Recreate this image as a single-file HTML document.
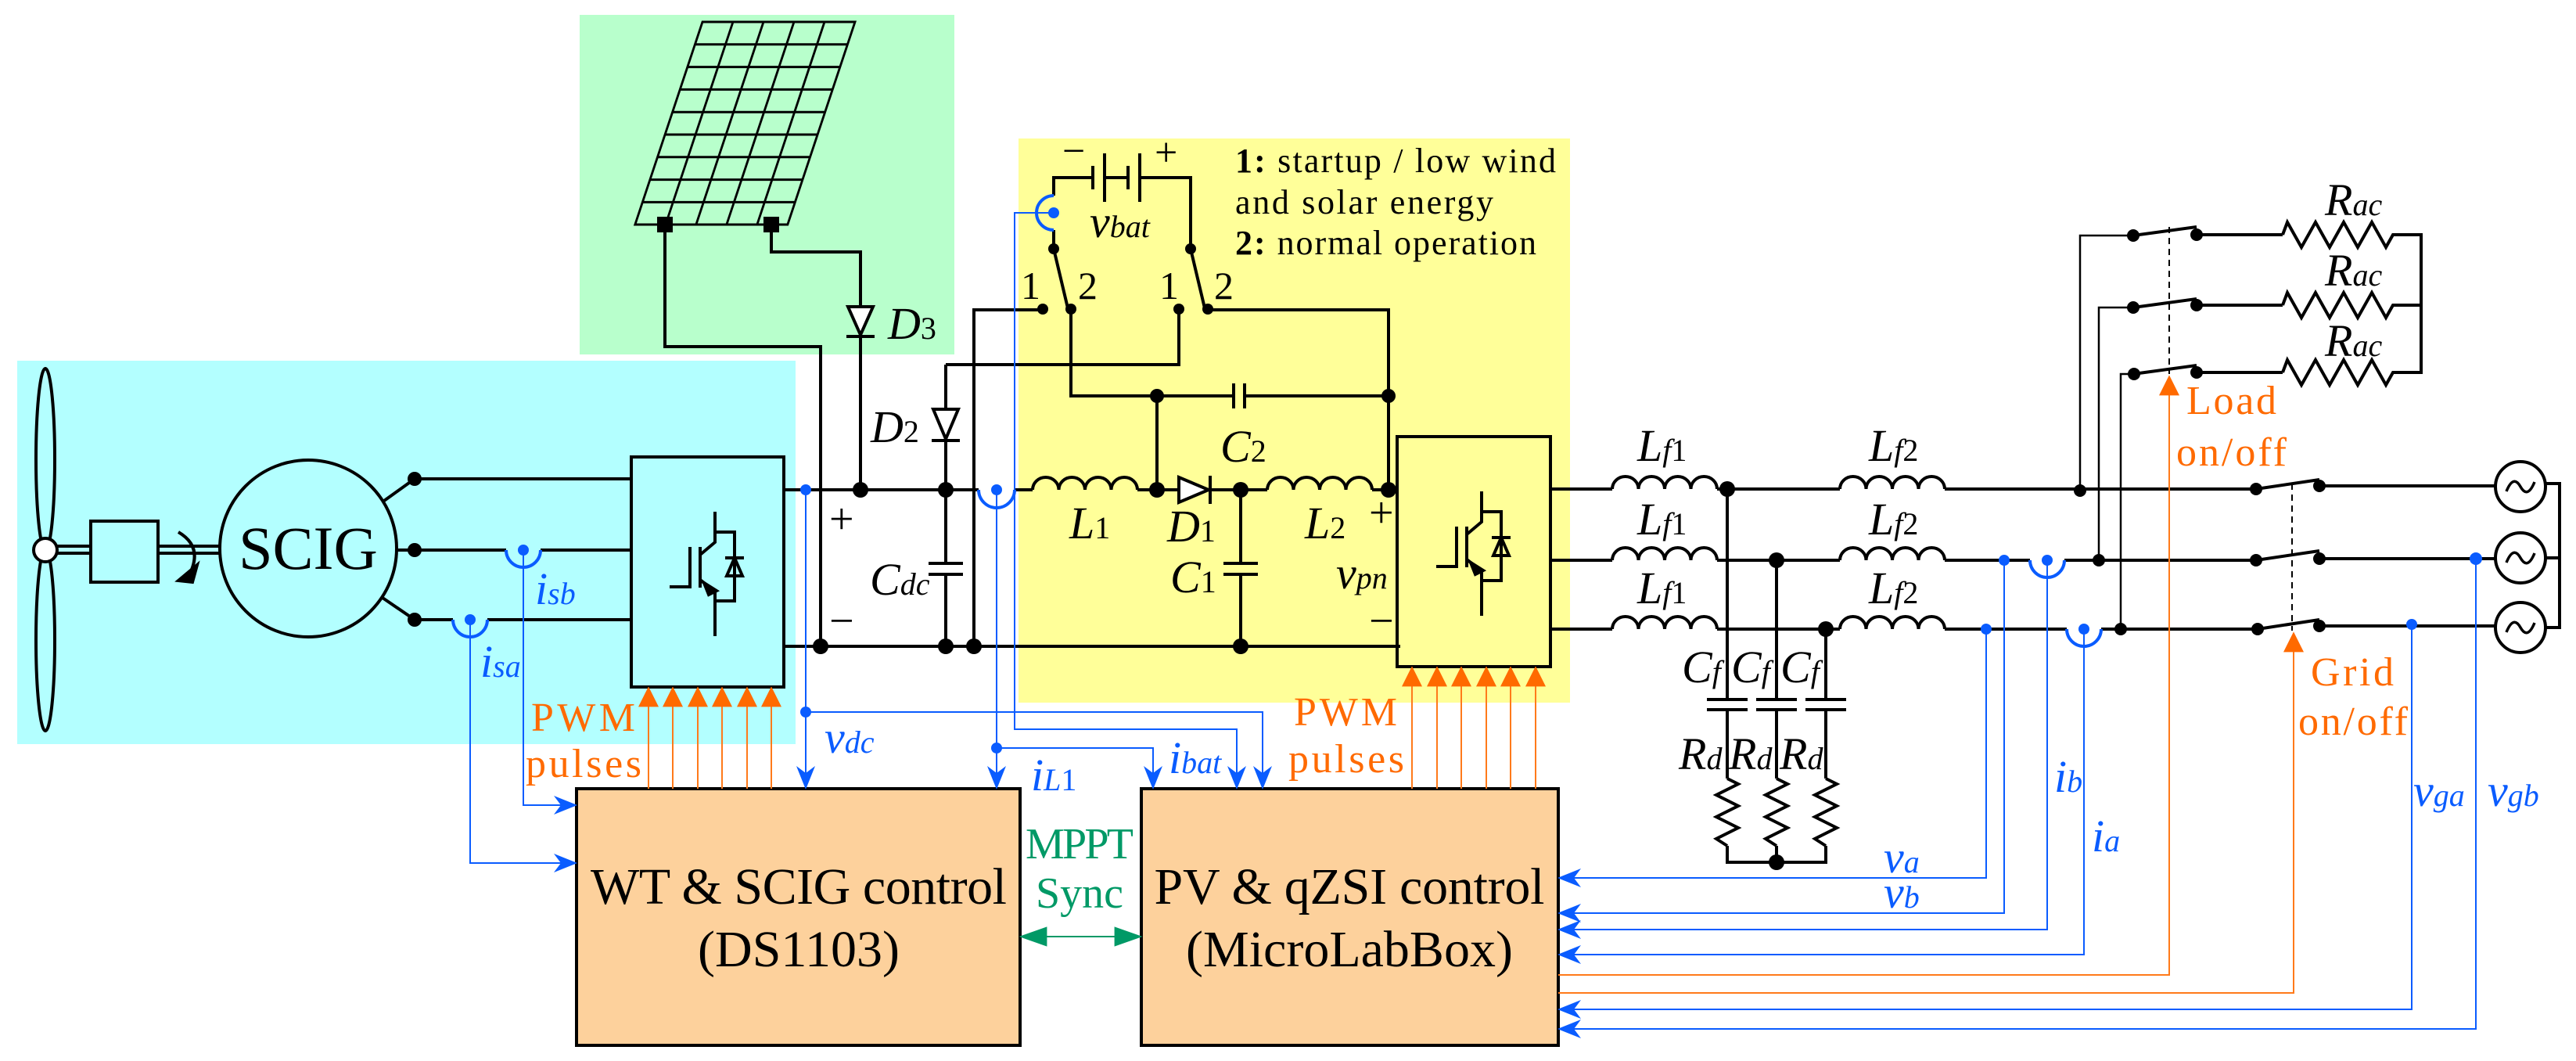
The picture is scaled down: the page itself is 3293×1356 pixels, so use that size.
<!DOCTYPE html>
<html><head><meta charset="utf-8"><style>
html,body{margin:0;padding:0;background:#fff}
svg{display:block}
text{font-family:"Liberation Serif",serif}
.l{font-style:italic;font-size:58px}
.s{font-size:40px}
.n{font-style:normal}
.bl{fill:#0a5cff}
.or{fill:#ff6a00}
</style></head><body>
<svg width="3293" height="1356" viewBox="0 0 3293 1356" xmlns="http://www.w3.org/2000/svg">
<defs>
<marker id="ao" viewBox="0 0 10 10" refX="9" refY="5" markerWidth="26" markerHeight="26" orient="auto" markerUnits="userSpaceOnUse"><path d="M0,0 L10,5 L0,10 z" fill="#ff6a00"/></marker>
<marker id="abb" viewBox="0 0 10 10" refX="9" refY="5" markerWidth="30" markerHeight="30" orient="auto" markerUnits="userSpaceOnUse"><path d="M0,1 L10,5 L0,9 L3,5 z" fill="#0a5cff"/></marker>
<marker id="ag" viewBox="0 0 10 10" refX="9" refY="5" markerWidth="36" markerHeight="36" orient="auto-start-reverse" markerUnits="userSpaceOnUse"><path d="M0,1.5 L10,5 L0,8.5 z" fill="#009966"/></marker>
<path id="ind" d="M0,0 a16.75,16 0 0 1 33.5,0 a16.75,16 0 0 1 33.5,0 a16.75,16 0 0 1 33.5,0 a16.75,16 0 0 1 33.5,0" fill="none" stroke="#000" stroke-width="4"/>
<polyline id="rh" points="0,0 6,-16 24,16 42,-16 60,16 78,-16 96,16 114,-16 132,16 141,0 148,0" fill="none" stroke="#000" stroke-width="4"/>
<polyline id="rv" points="0,0 14,7 -14,21 14,35 -14,49 14,63 -14,77 0,86" fill="none" stroke="#000" stroke-width="4"/>
<g id="igbt" fill="none" stroke="#000" stroke-width="4">
<path d="M10,-77 V-38 L-9,-22"/><path d="M-9,-32 V20"/><path d="M-9,10 L10,25 V82"/>
<path d="M-48,19 H-22 V-32"/><path d="M10,-51 H35 V37 H10"/><path d="M23,-18 H47"/>
<path d="M35,-18 L25,5 H45 z"/><path d="M-4,14 L12,24 L2,29 z" fill="#000"/>
</g>
</defs>

<rect x="741" y="19" width="479" height="434" fill="#b8ffcc"/>
<rect x="22" y="461" width="995" height="490" fill="#b3ffff"/>
<rect x="1302" y="177" width="705" height="721" fill="#ffff99"/>

<g fill="none" stroke="#000" stroke-width="4">
<g transform="translate(898,28) skewX(-18.4)" stroke-width="3">
<rect x="0" y="0" width="195" height="259"/>
<path d="M39,0V259M78,0V259M117,0V259M156,0V259"/>
<path d="M0,28.8H195M0,57.6H195M0,86.4H195M0,115.2H195M0,144H195M0,172.8H195M0,201.6H195M0,230.4H195"/>
</g>
<path d="M850,287 V443 H1049 V826"/>
<path d="M986,287 V322 H1100 V626"/>
<path d="M1084,392 H1116 L1100,428 Z" fill="#fff"/><path d="M1082,430 H1118"/>

<ellipse cx="58" cy="587" rx="12" ry="116"/><ellipse cx="58" cy="818" rx="12" ry="116"/>
<circle cx="58" cy="703" r="15" fill="#fff"/>
<path d="M73,698 H116 M73,707 H116 M202,698 H281 M202,707 H281"/>
<rect x="116" y="666" width="86" height="78"/>
<path d="M228,680 Q262,700 240,738"/>
<path d="M228,742 L252,722 L246,744 z" fill="#000"/>
<circle cx="394" cy="701" r="113"/>
<text x="394" y="727" text-anchor="middle" font-size="78" fill="#000" stroke="none">SCIG</text>
<path d="M491,640 L530,612 M507,703 H530 M489,764 L530,792"/>
<path d="M530,612 H807"/>
<path d="M530,703 H647 M691,703 H807"/>
<path d="M530,792 H579 M623,792 H807"/>
<rect x="807" y="584" width="195" height="294"/>
<use href="#igbt" x="904" y="731"/>
<path d="M1002,626 H1251 M1297,626 H1320"/>
<path d="M1002,826 H1790"/>
<path d="M1209,466 V720 M1209,734 V826"/>
<path d="M1187,720 H1231 M1187,734 H1231"/>
<path d="M1193,523 H1225 L1209,561 Z" fill="#fff"/><path d="M1191,563 H1227"/>
<path d="M1209,466 H1507 V396"/>
<path d="M1245,826 V396 H1333"/>
<path d="M1347,318 V294 M1347,250 V227 H1397 M1457,227 H1522 V318"/>
<path d="M1397,212 V242 M1412,196 V258 M1442,212 V242 M1457,196 V258 M1412,227 H1442"/>
<path d="M1347,318 L1366,398 M1522,318 L1541,398"/>
<path d="M1369,396 V506 H1577 M1591,506 H1775 V396 H1544"/>
<path d="M1577,490 V522 M1591,490 V522"/>
<path d="M1479,506 V626"/>
<use href="#ind" x="1320" y="626"/>
<path d="M1454,626 H1507 M1549,626 H1620"/>
<path d="M1507,610 V642 L1545,626 Z" fill="#fff"/><path d="M1547,608 V644"/>
<use href="#ind" x="1620" y="626"/>
<path d="M1754,626 H1786 M1775,506 V626"/>
<path d="M1586,626 V720 M1586,734 V826 M1564,720 H1608 M1564,734 H1608"/>
<rect x="1786" y="558" width="196" height="294"/>
<use href="#igbt" x="1884" y="705"/>
<path d="M1982,625 H2061 M2195,625 H2352 M2486,625 H2884"/>
<path d="M1982,716 H2061 M2195,716 H2352 M2486,716 H2595 M2639,716 H2884"/>
<path d="M1982,804 H2061 M2195,804 H2352 M2486,804 H2642 M2686,804 H2886"/>
<use href="#ind" x="2061" y="625"/><use href="#ind" x="2061" y="716"/><use href="#ind" x="2061" y="804"/>
<use href="#ind" x="2352" y="625"/><use href="#ind" x="2352" y="716"/><use href="#ind" x="2352" y="804"/>
<path d="M2208,625 V894 M2208,907 V995 M2271,716 V894 M2271,907 V995 M2334,804 V894 M2334,907 V995"/>
<path d="M2182,894 H2234 M2182,907 H2234 M2245,894 H2297 M2245,907 H2297 M2308,894 H2360 M2308,907 H2360"/>
<use href="#rv" x="2208" y="995"/><use href="#rv" x="2271" y="995"/><use href="#rv" x="2334" y="995"/>
<path d="M2208,1081 V1102 H2334 V1081 M2271,1081 V1102"/>
<path d="M2659,625 V301 H2727 M2683,716 V393 H2727 M2711,804 V478 H2727" stroke-width="2.5"/>
<path d="M2727,301 L2808,290 M2727,393 L2808,382 M2727,478 L2808,467"/>
<path d="M2808,300 H2918 M2808,390 H2918 M2808,476 H2918"/>
<use href="#rh" x="2918" y="300"/><use href="#rh" x="2918" y="390"/><use href="#rh" x="2918" y="476"/>
<path d="M3066,300 H3095 V476 H3066 M3066,390 H3095"/>
<path d="M2773,290 V478" stroke-width="2" stroke-dasharray="8,6"/>
<path d="M2884,625 L2965,613 M2884,716 L2965,704 M2886,804 L2965,792"/>
<path d="M2965,621 H3190 M2965,714 H3190 M2965,800 H3190"/>
<path d="M2930,618 V806" stroke-width="2" stroke-dasharray="8,6"/>
<circle cx="3222" cy="622" r="32"/><circle cx="3222" cy="713" r="32"/><circle cx="3222" cy="802" r="32"/>
<path d="M3204,628 q9,-22 18,-6 t18,-6 M3204,719 q9,-22 18,-6 t18,-6 M3204,808 q9,-22 18,-6 t18,-6" stroke-width="3.5"/>
<path d="M3254,618 H3272 V802 H3254 M3254,713 H3272"/>
<rect x="737" y="1008" width="567" height="328" fill="#fdd19c"/>
<rect x="1459" y="1008" width="533" height="328" fill="#fdd19c"/>
</g>

<g fill="#000">
<circle cx="530" cy="612" r="9"/><circle cx="530" cy="703" r="9"/><circle cx="530" cy="792" r="9"/>
<circle cx="1100" cy="626" r="10"/><circle cx="1049" cy="826" r="10"/><circle cx="1209" cy="626" r="10"/><circle cx="1209" cy="826" r="10"/><circle cx="1245" cy="826" r="10"/>
<circle cx="1479" cy="626" r="10"/><circle cx="1586" cy="626" r="10"/><circle cx="1775" cy="626" r="10"/><circle cx="1479" cy="506" r="9"/><circle cx="1775" cy="506" r="9"/><circle cx="1586" cy="826" r="10"/>
<circle cx="1347" cy="318" r="7"/><circle cx="1522" cy="318" r="7"/><circle cx="1333" cy="395" r="7"/><circle cx="1369" cy="395" r="7"/><circle cx="1507" cy="395" r="7"/><circle cx="1544" cy="395" r="7"/>
<rect x="840" y="277" width="20" height="20"/><rect x="976" y="277" width="20" height="20"/>
<circle cx="2208" cy="625" r="10"/><circle cx="2271" cy="716" r="10"/><circle cx="2334" cy="804" r="10"/><circle cx="2271" cy="1102" r="10"/>
<circle cx="2659" cy="627" r="8"/><circle cx="2683" cy="716" r="8"/><circle cx="2711" cy="804" r="8"/>
<circle cx="2727" cy="301" r="8"/><circle cx="2727" cy="393" r="8"/><circle cx="2728" cy="478" r="8"/>
<circle cx="2808" cy="300" r="8"/><circle cx="2808" cy="390" r="8"/><circle cx="2808" cy="476" r="8"/>
<circle cx="2884" cy="625" r="8"/><circle cx="2884" cy="716" r="8"/><circle cx="2886" cy="804" r="8"/>
<circle cx="2965" cy="621" r="8"/><circle cx="2965" cy="714" r="8"/><circle cx="2965" cy="800" r="8"/>
</g>

<g fill="none" stroke="#0a5cff">
<path d="M647,703 a22,22 0 0 0 44,0 M579,792 a22,22 0 0 0 44,0 M1251,626 a23,23 0 0 0 46,0 M1347,250 a22,22 0 0 0 0,44 M2595,716 a22,22 0 0 0 44,0 M2642,804 a22,22 0 0 0 44,0" stroke-width="4"/>
<g stroke-width="2">
<path d="M669,703 V1029 H735" marker-end="url(#abb)"/>
<path d="M601,792 V1103 H735" marker-end="url(#abb)"/>
<path d="M1030,626 V1006" marker-end="url(#abb)"/>
<path d="M1030,910 H1614 V1006" marker-end="url(#abb)"/>
<path d="M1274,626 V1006" marker-end="url(#abb)"/>
<path d="M1274,956 H1474 V1006" marker-end="url(#abb)"/>
<path d="M1347,272 H1297 V932 H1581 V1006" marker-end="url(#abb)"/>
<path d="M2539,804 V1122 H1994" marker-end="url(#abb)"/>
<path d="M2562,716 V1167 H1994" marker-end="url(#abb)"/>
<path d="M2617,716 V1188 H1994" marker-end="url(#abb)"/>
<path d="M2664,804 V1220 H1994" marker-end="url(#abb)"/>
<path d="M3083,800 V1290 H1994" marker-end="url(#abb)"/>
<path d="M3165,714 V1315 H1994" marker-end="url(#abb)"/>
</g>
</g>
<g fill="#0a5cff">
<circle cx="669" cy="703" r="7"/><circle cx="601" cy="792" r="7"/><circle cx="1030" cy="626" r="7"/><circle cx="1030" cy="910" r="7"/>
<circle cx="1274" cy="626" r="7"/><circle cx="1274" cy="956" r="7"/><circle cx="1347" cy="272" r="7"/>
<circle cx="2562" cy="716" r="7"/><circle cx="2617" cy="716" r="7"/><circle cx="2539" cy="804" r="7"/><circle cx="2664" cy="804" r="7"/>
<circle cx="3083" cy="798" r="7"/><circle cx="3165" cy="714" r="8"/>
</g>

<g fill="none" stroke="#ff7a1a" stroke-width="2">
<path d="M829,1008 V880" marker-end="url(#ao)"/>
<path d="M860,1008 V880" marker-end="url(#ao)"/>
<path d="M892,1008 V880" marker-end="url(#ao)"/>
<path d="M923,1008 V880" marker-end="url(#ao)"/>
<path d="M955,1008 V880" marker-end="url(#ao)"/>
<path d="M986,1008 V880" marker-end="url(#ao)"/>
<path d="M1805,1008 V854" marker-end="url(#ao)"/>
<path d="M1837,1008 V854" marker-end="url(#ao)"/>
<path d="M1868,1008 V854" marker-end="url(#ao)"/>
<path d="M1900,1008 V854" marker-end="url(#ao)"/>
<path d="M1931,1008 V854" marker-end="url(#ao)"/>
<path d="M1963,1008 V854" marker-end="url(#ao)"/>
<path d="M1992,1246 H2773 V482" marker-end="url(#ao)"/>
<path d="M1992,1269 H2932 V810" marker-end="url(#ao)"/>
</g>
<path d="M1306,1197 H1457" stroke="#009966" stroke-width="2" marker-start="url(#ag)" marker-end="url(#ag)"/>

<g fill="#000">
<text class="l" x="1135" y="433">D<tspan class="s n">3</tspan></text>
<text class="l" x="1113" y="565">D<tspan class="s n">2</tspan></text>
<text class="l" x="1112" y="760">C<tspan class="s">dc</tspan></text>
<text x="1060" y="682" font-size="56">+</text><text x="1060" y="812" font-size="56">−</text>
<text class="l" x="1367" y="688">L<tspan class="s n">1</tspan></text>
<text class="l" x="1492" y="692">D<tspan class="s n">1</tspan></text>
<text class="l" x="1496" y="757">C<tspan class="s n">1</tspan></text>
<text class="l" x="1668" y="688">L<tspan class="s n">2</tspan></text>
<text class="l" x="1560" y="590">C<tspan class="s n">2</tspan></text>
<text x="1750" y="674" font-size="56">+</text><text x="1750" y="812" font-size="56">−</text>
<text class="l" x="1708" y="752">v<tspan class="s">pn</tspan></text>
<text class="l" x="1393" y="303">v<tspan class="s">bat</tspan></text>
<text x="1358" y="210" font-size="52">−</text><text x="1476" y="212" font-size="52">+</text>
<text x="1305" y="382" font-size="50">1</text><text x="1378" y="382" font-size="50">2</text>
<text x="1482" y="382" font-size="50">1</text><text x="1552" y="382" font-size="50">2</text>
<text x="1579" y="220" font-size="44" textLength="410"><tspan font-weight="bold">1:</tspan> startup / low wind</text>
<text x="1579" y="273" font-size="44" textLength="330">and solar energy</text>
<text x="1579" y="325" font-size="44" textLength="385"><tspan font-weight="bold">2:</tspan> normal operation</text>
<text class="l" x="2093" y="589">L<tspan class="s">f</tspan><tspan class="s n">1</tspan></text>
<text class="l" x="2093" y="683">L<tspan class="s">f</tspan><tspan class="s n">1</tspan></text>
<text class="l" x="2093" y="771">L<tspan class="s">f</tspan><tspan class="s n">1</tspan></text>
<text class="l" x="2389" y="589">L<tspan class="s">f</tspan><tspan class="s n">2</tspan></text>
<text class="l" x="2389" y="683">L<tspan class="s">f</tspan><tspan class="s n">2</tspan></text>
<text class="l" x="2389" y="771">L<tspan class="s">f</tspan><tspan class="s n">2</tspan></text>
<text class="l" x="2150" y="872">C<tspan class="s">f</tspan></text>
<text class="l" x="2213" y="872">C<tspan class="s">f</tspan></text>
<text class="l" x="2276" y="872">C<tspan class="s">f</tspan></text>
<text class="l" x="2146" y="983">R<tspan class="s">d</tspan></text>
<text class="l" x="2210" y="983">R<tspan class="s">d</tspan></text>
<text class="l" x="2275" y="983">R<tspan class="s">d</tspan></text>
<text class="l" x="2972" y="275">R<tspan class="s">ac</tspan></text>
<text class="l" x="2972" y="365">R<tspan class="s">ac</tspan></text>
<text class="l" x="2972" y="455">R<tspan class="s">ac</tspan></text>
<text x="1021" y="1155" text-anchor="middle" font-size="66" textLength="532">WT &amp; SCIG control</text>
<text x="1021" y="1235" text-anchor="middle" font-size="66">(DS1103)</text>
<text x="1725" y="1155" text-anchor="middle" font-size="66" textLength="499">PV &amp; qZSI control</text>
<text x="1725" y="1235" text-anchor="middle" font-size="66">(MicroLabBox)</text>
</g>
<g class="bl">
<text class="l bl" x="684" y="772">i<tspan class="s">sb</tspan></text>
<text class="l bl" x="614" y="865">i<tspan class="s">sa</tspan></text>
<text class="l bl" x="1054" y="962">v<tspan class="s">dc</tspan></text>
<text class="l bl" x="1318" y="1010">i<tspan class="s">L</tspan><tspan class="s n">1</tspan></text>
<text class="l bl" x="1494" y="988">i<tspan class="s">bat</tspan></text>
<text class="l bl" x="2408" y="1115">v<tspan class="s">a</tspan></text>
<text class="l bl" x="2408" y="1160">v<tspan class="s">b</tspan></text>
<text class="l bl" x="2626" y="1012">i<tspan class="s">b</tspan></text>
<text class="l bl" x="2674" y="1088">i<tspan class="s">a</tspan></text>
<text class="l bl" x="3085" y="1030">v<tspan class="s">ga</tspan></text>
<text class="l bl" x="3180" y="1030">v<tspan class="s">gb</tspan></text>
</g>
<g class="or" font-size="52">
<text x="679" y="934" textLength="133">PWM</text>
<text x="672" y="993" textLength="148">pulses</text>
<text x="1654" y="927" textLength="132">PWM</text>
<text x="1647" y="987" textLength="148">pulses</text>
<text x="2795" y="529" textLength="115">Load</text>
<text x="2782" y="595" textLength="141">on/off</text>
<text x="2954" y="876" textLength="106">Grid</text>
<text x="2938" y="939" textLength="140">on/off</text>
</g>
<g fill="#009966" font-size="56">
<text x="1380" y="1097" text-anchor="middle" textLength="138">MPPT</text>
<text x="1380" y="1160" text-anchor="middle">Sync</text>
</g>
</svg>
</body></html>
